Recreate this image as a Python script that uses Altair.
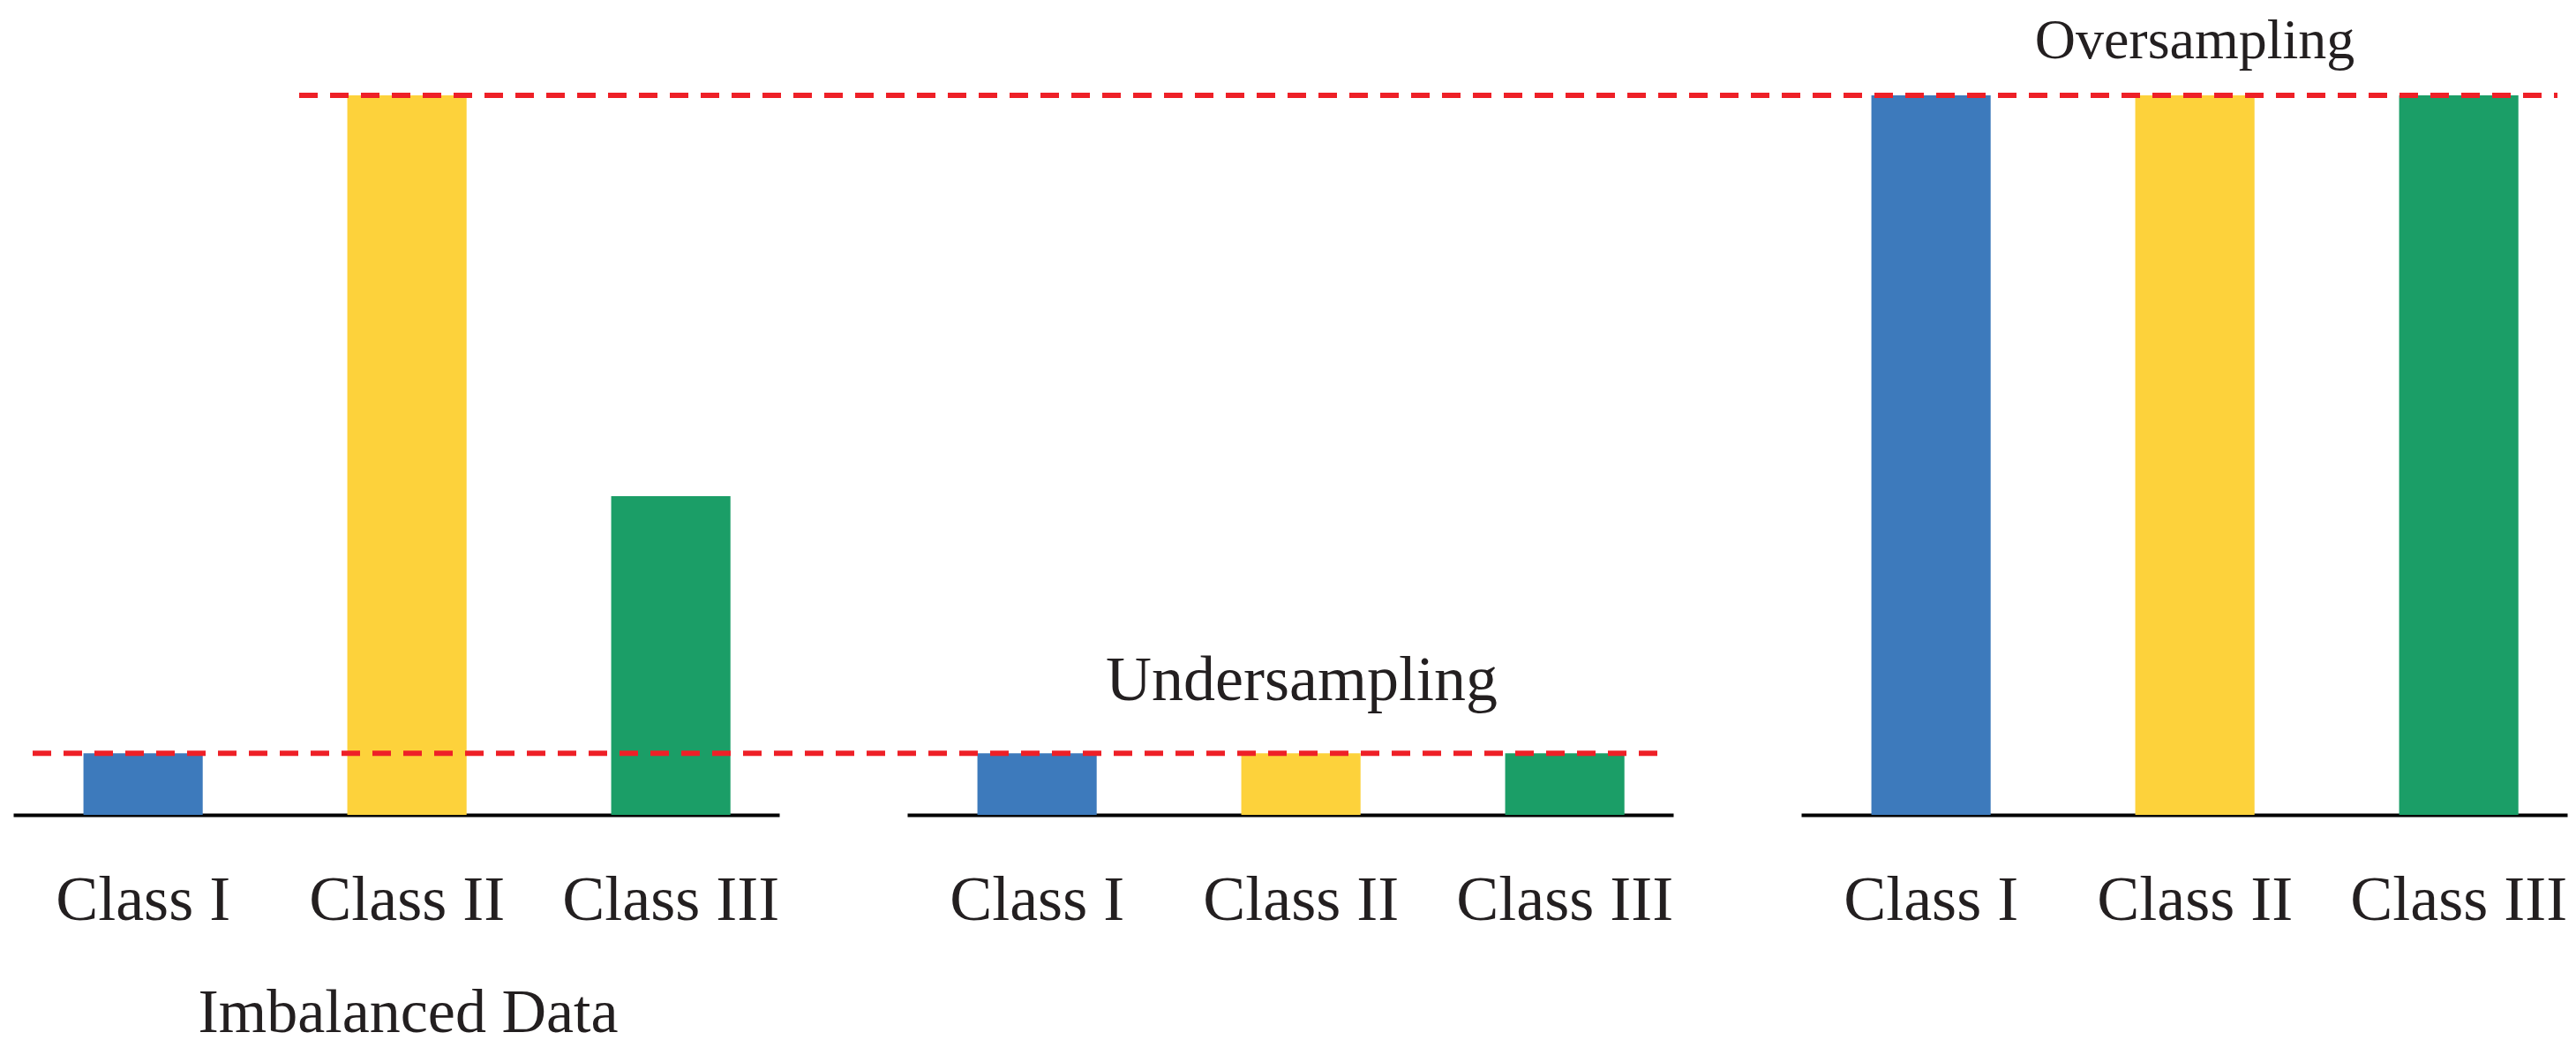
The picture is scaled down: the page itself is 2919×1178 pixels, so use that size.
import altair as alt
import pandas as pd

# ---- data ----
classes = ["Class I", "Class II", "Class III"]
imbalanced = [60, 700, 310]
undersampled = [60, 60, 60]
oversampled = [700, 700, 700]
colors = ["#3D7ABC", "#FDD23B", "#1B9E67"]
threshold_under = [60]
threshold_over = [700]
panel_titles = ["Imbalanced Data", "Undersampling", "Oversampling"]

# ---- style ----
FONT = "Liberation Serif"
TEXT = "#231F20"
RED = "#EE2027"
W, H = 868, 897
YMAX = 770.4

xscale = alt.Scale(paddingInner=0.548, paddingOuter=0.2255, align=0.59)
yscale = alt.Scale(domain=[0, YMAX], nice=False, zero=True)
cscale = alt.Scale(domain=classes, range=colors)


def make_axis(title=None):
    kw = dict(
        domain=True, domainColor="#000000", domainWidth=4,
        ticks=False, tickSize=0, grid=False,
        labelAngle=0, labelFont=FONT, labelFontSize=72, labelColor=TEXT,
        labelPadding=118, labelBaseline="alphabetic", labelLimit=0,
        labelFlush=False, labelOverlap=False,
    )
    if title:
        kw.update(
            title=title, titleFont=FONT, titleFontSize=70, titleFontWeight="normal",
            titleColor=TEXT, titleX=447, titleY=245, titleBaseline="alphabetic",
            titleAlign="center", titleAngle=0, titleLimit=0,
        )
    else:
        kw.update(title=None)
    return alt.Axis(**kw)


def bars(values, title=None):
    df = pd.DataFrame({"cls": classes, "n": values})
    return alt.Chart(df).mark_bar().encode(
        x=alt.X("cls:N", sort=classes, scale=xscale, axis=make_axis(title)),
        y=alt.Y("n:Q", scale=yscale, axis=None),
        color=alt.Color("cls:N", scale=cscale, legend=None),
    )


def dashed(values, x0, x1):
    df = pd.DataFrame({"t": values})
    return alt.Chart(df).mark_rule(
        color=RED, strokeWidth=6, strokeDash=[21, 14]
    ).encode(
        y=alt.Y("t:Q", scale=yscale, axis=None),
        x=alt.value(x0), x2=alt.value(x1),
    )


def label(text, x, y, size):
    df = pd.DataFrame({"label": [text]})
    return alt.Chart(df).mark_text(
        font=FONT, fontSize=size, color=TEXT, baseline="alphabetic", align="center"
    ).encode(text="label:N", x=alt.value(x), y=alt.value(y))


left = bars(imbalanced, panel_titles[0]).properties(width=W, height=H)

middle = alt.layer(
    bars(undersampled),
    dashed(threshold_under, 37 - 1028, 1878 - 1028),
    label(panel_titles[1], 447, 767, 72),
).properties(width=W, height=H)

right = alt.layer(
    bars(oversampled),
    dashed(threshold_over, 339 - 2041, 2898 - 2041),
    label(panel_titles[2], 446, 40, 64),
).properties(width=W, height=H)

chart = alt.hconcat(left, middle, right, spacing=145, bounds="flush").configure_view(
    stroke=None
).properties(
    padding={"left": 7, "top": 7, "right": 2, "bottom": 2},
    background="#FFFFFF",
)

chart.save("out.html", embed_options={"renderer": "svg", "actions": False})
